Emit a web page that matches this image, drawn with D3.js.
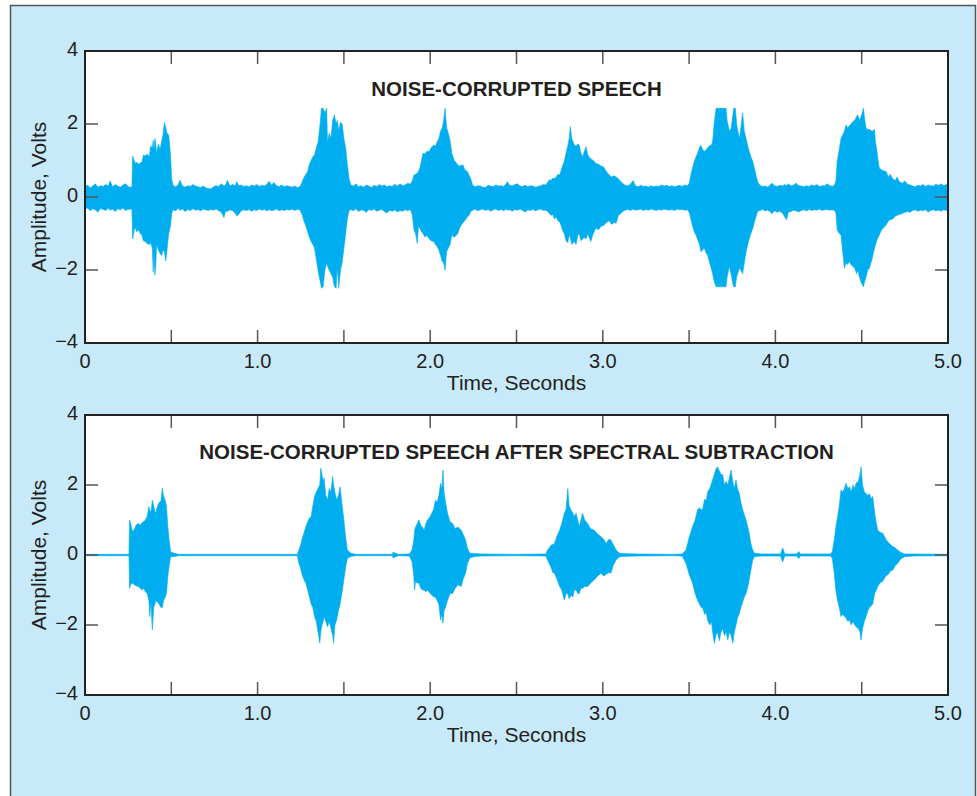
<!DOCTYPE html>
<html><head><meta charset="utf-8">
<script src="https://cdn.jsdelivr.net/npm/d3@7"></script>
<style>body{margin:0;background:#fff}svg{display:block}</style>
</head><body>
<svg id="c" width="977" height="796"></svg>
<script>
// ---- Data (envelopes) ----
const xTicks = [0,0.5,1,1.5,2,2.5,3,3.5,4,4.5,5];
const xTickLabels = ["0","","1.0","","2.0","","3.0","","4.0","","5.0"];
const yTicks = [-4,-2,0,2,4];
const yTickLabels = ["\u22124","\u22122","0","2","4"];
const titles = ["NOISE-CORRUPTED SPEECH","NOISE-CORRUPTED SPEECH AFTER SPECTRAL SUBTRACTION"];
const xAxisTitle = "Time, Seconds";
const yAxisTitle = "Amplitude, Volts";

// Panel 1 waveform envelope: [time s, upper V, lower V]
const noisySpeech = [
[0,.28,-.33],[.015,.33,-.30],[.03,.25,-.38],[.045,.30,-.32],[.06,.36,-.35],[.075,.27,-.42],[.09,.31,-.31],[.105,.29,-.34],[.12,.34,-.37],[.135,.30,-.30],[.145,.44,-.36],[.16,.28,-.33],[.175,.34,-.40],[.19,.30,-.32],[.205,.27,-.35],[.22,.33,-.30],[.235,.36,-.37],[.25,.29,-.34],[.265,.26,-.33],
[.272,.30,-.35],[.276,1.12,-1.15],[.285,1.0,-.9],[.292,.92,-.85],[.30,.95,-.95],[.31,.9,-.9],[.32,.93,-1.0],[.33,.95,-1.05],[.338,1.15,-1.2],[.35,1.12,-1.22],[.36,1.18,-1.28],[.372,1.1,-1.3],[.38,1.4,-1.25],[.39,1.35,-1.4],[.395,1.55,-2.05],[.40,1.3,-1.6],[.405,1.6,-2.14],[.41,1.45,-1.9],[.415,1.2,-1.3],[.425,1.45,-1.45],[.435,1.3,-1.55],[.445,1.55,-1.6],[.452,1.7,-1.45],[.46,2.05,-1.5],[.468,1.9,-1.75],[.475,1.75,-1.45],[.485,1.7,-1.0],[.495,1.2,-.8],[.502,.5,-.45],
[.51,.32,-.35],[.525,.28,-.38],[.54,.33,-.31],[.55,.46,-.36],[.565,.30,-.33],[.58,.27,-.40],[.595,.31,-.34],[.61,.29,-.37],[.625,.34,-.32],[.64,.30,-.36],[.655,.28,-.34],[.67,.26,-.38],[.685,.30,-.33],[.70,.25,-.35],[.715,.23,-.37],[.73,.22,-.34],[.745,.28,-.36],[.76,.31,-.33],[.775,.29,-.38],[.79,.36,-.41],[.805,.30,-.56],[.815,.33,-.38],[.825,.46,-.40],[.84,.30,-.35],[.855,.34,-.38],[.87,.31,-.44],[.88,.42,-.52],[.89,.30,-.48],[.905,.33,-.38],[.92,.29,-.35],[.935,.31,-.37],[.95,.28,-.34],[.965,.33,-.39],[.98,.30,-.35],[.995,.34,-.37],[1.01,.29,-.33],[1.025,.32,-.36],[1.04,.30,-.34],[1.055,.35,-.38],[1.066,.43,-.35],[1.08,.33,-.37],[1.095,.40,-.36],[1.11,.30,-.33],[1.125,.29,-.38],[1.14,.33,-.35],[1.155,.28,-.37],[1.17,.31,-.34],[1.185,.29,-.36],[1.20,.27,-.33],[1.215,.30,-.37],[1.23,.26,-.34],[1.245,.28,-.35],
[1.259,.42,-.5],[1.27,.55,-.68],[1.28,.62,-.8],[1.29,.7,-.95],[1.30,.9,-1.1],[1.31,1.0,-1.22],[1.32,1.1,-1.3],[1.33,1.15,-1.4],[1.34,1.35,-1.7],[1.35,1.5,-2.0],[1.355,1.7,-2.14],[1.362,2.0,-2.3],[1.37,2.43,-2.5],[1.38,2.43,-2.45],[1.39,2.3,-2.0],[1.40,2.43,-1.8],[1.405,1.5,-1.9],[1.415,1.75,-2.0],[1.425,1.6,-2.1],[1.435,2.1,-2.2],[1.445,2.25,-2.45],[1.455,2.0,-2.5],[1.462,2.1,-1.9],[1.47,1.8,-2.5],[1.48,2.05,-2.0],[1.49,2.0,-1.8],[1.50,1.6,-1.4],[1.51,1.35,-1.0],[1.52,.9,-.6],[1.53,.5,-.38],
[1.54,.33,-.34],[1.555,.30,-.38],[1.57,.36,-.32],[1.585,.28,-.40],[1.60,.31,-.35],[1.615,.27,-.37],[1.63,.33,-.42],[1.645,.30,-.34],[1.66,.26,-.37],[1.675,.32,-.33],[1.69,.29,-.39],[1.705,.34,-.36],[1.72,.30,-.34],[1.735,.33,-.40],[1.75,.28,-.44],[1.765,.31,-.36],[1.78,.29,-.39],[1.795,.35,-.35],[1.81,.30,-.41],[1.825,.36,-.37],[1.84,.31,-.39],[1.855,.33,-.35],[1.87,.38,-.38],[1.885,.35,-.34],[1.897,.45,-.5],
[1.906,.6,-.9],[1.915,.62,-1.0],[1.925,.65,-1.27],[1.932,.7,-.8],[1.94,.8,-.85],[1.95,1.0,-.95],[1.958,1.2,-1.0],[1.97,1.18,-1.1],[1.98,1.25,-1.05],[1.995,1.25,-1.15],[2.005,1.35,-1.2],[2.02,1.42,-1.22],[2.03,1.4,-1.3],[2.04,1.5,-1.35],[2.05,1.6,-1.45],[2.06,1.8,-1.6],[2.07,1.9,-1.77],[2.078,2.1,-1.8],[2.086,2.43,-2.0],[2.095,1.9,-1.5],[2.105,1.75,-1.4],[2.115,1.55,-1.3],[2.125,1.2,-1.05],[2.14,1.0,-1.1],[2.16,.88,-1.0],[2.17,.85,-.85],[2.19,.88,-.7],[2.2,.75,-.65],[2.215,.7,-.55],[2.225,.6,-.5],[2.235,.5,-.4],
[2.245,.33,-.36],[2.26,.28,-.33],[2.275,.31,-.38],[2.29,.30,-.35],[2.305,.27,-.33],[2.32,.26,-.37],[2.335,.32,-.34],[2.35,.30,-.39],[2.365,.28,-.35],[2.38,.33,-.33],[2.395,.30,-.37],[2.41,.31,-.34],[2.425,.29,-.38],[2.44,.36,-.33],[2.447,.42,-.36],[2.46,.32,-.35],[2.475,.30,-.39],[2.49,.34,-.34],[2.505,.36,-.36],[2.52,.30,-.33],[2.535,.29,-.37],[2.55,.32,-.41],[2.565,.28,-.35],[2.58,.31,-.37],[2.595,.30,-.34],[2.61,.27,-.38],[2.625,.29,-.35],[2.64,.31,-.33],[2.655,.34,-.37],[2.67,.33,-.36],[2.68,.40,-.40],
[2.69,.47,-.45],[2.70,.45,-.5],[2.71,.52,-.48],[2.72,.5,-.6],[2.73,.55,-.55],[2.74,.62,-.65],[2.75,.6,-.68],[2.76,.75,-.8],[2.77,.9,-.95],[2.777,.97,-1.0],[2.787,1.2,-1.2],[2.797,1.4,-1.25],[2.805,1.6,-1.05],[2.812,1.93,-1.1],[2.82,1.6,-1.3],[2.835,1.42,-1.22],[2.845,1.4,-1.3],[2.855,1.45,-1.05],[2.864,1.42,-1.0],[2.873,1.2,-1.2],[2.883,1.1,-1.15],[2.893,1.25,-1.1],[2.903,1.38,-1.15],[2.913,1.15,-1.0],[2.93,1.05,-1.22],[2.945,1.0,-1.0],[2.96,.92,-.85],[2.975,.9,-.9],[2.99,.85,-.8],[3.005,.82,-.78],[3.02,.7,-.7],[3.038,.6,-.65],[3.05,.55,-.75],[3.065,.58,-.7],[3.077,.55,-.72],[3.09,.5,-.5],[3.105,.42,-.45],[3.115,.37,-.4],
[3.13,.32,-.36],[3.145,.30,-.34],[3.16,.35,-.37],[3.175,.45,-.33],[3.19,.30,-.36],[3.205,.28,-.35],[3.22,.32,-.33],[3.235,.29,-.37],[3.25,.30,-.34],[3.265,.27,-.36],[3.28,.31,-.33],[3.295,.28,-.35],[3.31,.30,-.37],[3.325,.29,-.34],[3.34,.33,-.36],[3.355,.30,-.33],[3.37,.32,-.35],[3.385,.29,-.36],[3.40,.31,-.34],[3.415,.28,-.37],[3.43,.30,-.33],[3.445,.32,-.35],[3.46,.29,-.34],[3.475,.33,-.36],[3.49,.31,-.35],
[3.501,.38,-.42],[3.51,.6,-.6],[3.52,.8,-.8],[3.53,.97,-.95],[3.54,1.1,-1.05],[3.549,1.2,-1.15],[3.56,1.35,-1.3],[3.569,1.42,-1.5],[3.578,1.3,-1.45],[3.588,1.25,-1.4],[3.6,1.3,-1.55],[3.608,1.35,-1.6],[3.617,1.4,-1.77],[3.628,1.42,-1.95],[3.636,1.5,-2.1],[3.645,2.0,-2.3],[3.656,2.43,-2.46],[3.685,2.43,-2.46],[3.714,2.43,-2.46],[3.72,2.1,-2.2],[3.733,1.8,-1.9],[3.743,1.88,-2.1],[3.75,2.1,-2.3],[3.758,2.43,-2.46],[3.768,2.43,-2.46],[3.775,2.0,-2.2],[3.791,1.6,-1.95],[3.8,1.9,-2.0],[3.81,2.3,-2.1],[3.82,1.8,-1.8],[3.83,1.6,-1.5],[3.845,1.3,-1.2],[3.858,1.1,-1.0],[3.869,.97,-.86],[3.883,.7,-.6],[3.897,.42,-.4],
[3.91,.32,-.37],[3.925,.29,-.34],[3.94,.30,-.38],[3.955,.27,-.36],[3.97,.33,-.40],[3.98,.38,-.46],[3.995,.31,-.38],[4.01,.29,-.42],[4.025,.32,-.39],[4.04,.30,-.44],[4.055,.34,-.55],[4.065,.31,-.62],[4.075,.36,-.42],[4.09,.30,-.40],[4.105,.33,-.36],[4.12,.38,-.38],[4.135,.31,-.41],[4.15,.30,-.37],[4.165,.28,-.35],[4.18,.31,-.38],[4.195,.29,-.34],[4.21,.33,-.37],[4.225,.30,-.35],[4.24,.34,-.36],[4.255,.29,-.33],[4.27,.31,-.37],[4.285,.30,-.35],[4.30,.36,-.34],[4.315,.31,-.36],[4.33,.29,-.35],[4.343,.33,-.37],
[4.351,.45,-.45],[4.358,.97,-.9],[4.37,1.3,-1.0],[4.38,1.6,-1.04],[4.39,1.7,-1.5],[4.4,1.8,-1.95],[4.409,1.97,-1.8],[4.418,1.9,-1.85],[4.428,1.95,-1.77],[4.438,2.0,-1.85],[4.448,2.06,-1.9],[4.46,2.1,-1.95],[4.47,2.2,-2.1],[4.477,2.25,-2.0],[4.487,2.1,-2.2],[4.496,2.2,-2.32],[4.503,2.3,-2.4],[4.51,2.43,-2.46],[4.518,2.1,-2.3],[4.525,1.9,-2.2],[4.535,1.85,-2.0],[4.545,1.85,-1.95],[4.56,1.8,-1.7],[4.574,1.85,-1.4],[4.58,1.5,-1.3],[4.587,1.3,-1.2],[4.595,1.0,-1.1],[4.602,.79,-1.04],[4.615,.75,-.9],[4.625,.72,-.85],[4.641,.7,-.77],[4.655,.55,-.65],[4.665,.62,-.62],[4.68,.5,-.6],[4.695,.45,-.52],[4.705,.55,-.5],[4.718,.42,-.48],[4.735,.38,-.45],[4.75,.44,-.42],[4.765,.35,-.4],[4.78,.33,-.42],
[4.795,.30,-.37],[4.81,.28,-.35],[4.825,.32,-.39],[4.84,.30,-.36],[4.855,.34,-.38],[4.87,.29,-.35],[4.885,.33,-.41],[4.90,.31,-.37],[4.915,.30,-.35],[4.93,.35,-.38],[4.945,.32,-.36],[4.96,.36,-.39],[4.975,.31,-.35],[4.99,.34,-.37],[5.0,.33,-.36]
];

// Panel 2 waveform envelope: [time s, upper V, lower V]
const cleanedSpeech = [
[0,.02,-.02],[.25,.02,-.02],[.255,.03,-.03],[.258,1.0,-.95],[.265,.9,-.85],[.275,.67,-.8],[.285,.72,-.85],[.295,.85,-.88],[.31,.9,-.9],[.32,.85,-.95],[.33,.92,-1.0],[.34,.95,-.95],[.35,1.0,-1.05],[.36,1.1,-1.1],[.37,1.38,-1.3],[.375,1.3,-1.76],[.382,1.2,-1.35],[.39,1.57,-2.14],[.398,1.4,-1.5],[.405,1.25,-1.4],[.41,1.2,-1.3],[.42,1.4,-1.35],[.43,1.5,-1.4],[.44,1.55,-1.5],[.448,1.9,-1.5],[.455,1.7,-1.3],[.465,1.55,-1.2],[.472,1.4,-1.1],[.48,.81,-.6],[.488,.4,-.3],[.496,.1,-.05],[.51,.06,-.05],[.52,.05,-.04],[.54,.02,-.02],
[1.23,.02,-.02],[1.24,.15,-.25],[1.25,.3,-.4],[1.26,.5,-.6],[1.27,.65,-.72],[1.28,.81,-.81],[1.29,.95,-1.0],[1.30,1.05,-1.2],[1.31,1.1,-1.4],[1.32,1.4,-1.5],[1.33,1.67,-1.76],[1.34,1.8,-1.9],[1.35,1.9,-2.2],[1.36,2.0,-2.52],[1.366,2.48,-2.2],[1.373,2.3,-2.0],[1.38,2.1,-1.9],[1.385,2.2,-1.76],[1.395,1.7,-1.9],[1.405,1.57,-2.05],[1.415,1.9,-1.9],[1.425,1.8,-2.1],[1.435,2.24,-2.3],[1.44,2.0,-2.52],[1.448,1.8,-2.0],[1.458,1.57,-1.86],[1.468,1.7,-1.6],[1.478,1.95,-1.4],[1.488,1.5,-1.1],[1.5,1.0,-.7],[1.51,.5,-.35],[1.52,.14,-.1],[1.54,.05,-.04],[1.57,.02,-.02],
[1.78,.02,-.02],[1.785,.08,-.08],[1.8,.05,-.05],[1.815,.02,-.02],
[1.88,.03,-.03],[1.895,.15,-.2],[1.905,.43,-.6],[1.91,.7,-1.0],[1.915,.8,-.75],[1.925,.9,-.8],[1.935,1.0,-.8],[1.945,.85,-.95],[1.955,.8,-1.0],[1.965,.71,-1.0],[1.975,.9,-1.05],[1.985,1.0,-1.0],[2.0,1.1,-1.1],[2.01,1.2,-1.15],[2.02,1.3,-1.2],[2.03,1.57,-1.2],[2.04,1.5,-1.3],[2.05,1.7,-1.4],[2.06,2.05,-1.86],[2.068,1.9,-1.7],[2.074,2.43,-1.95],[2.08,1.8,-1.6],[2.09,1.48,-1.48],[2.1,1.2,-1.3],[2.115,.95,-1.1],[2.13,.9,-1.1],[2.145,.75,-.95],[2.16,.8,-.85],[2.18,.71,-.9],[2.19,.6,-.7],[2.205,.43,-.52],[2.215,.2,-.25],[2.23,.05,-.08],[2.26,.04,-.04],[2.3,.03,-.03],[2.5,.02,-.02],
[2.67,.03,-.03],[2.68,.14,-.14],[2.69,.2,-.25],[2.7,.28,-.35],[2.71,.3,-.5],[2.72,.33,-.52],[2.735,.55,-.7],[2.75,.71,-.9],[2.762,.9,-1.0],[2.777,1.19,-1.29],[2.787,1.3,-1.1],[2.797,1.9,-1.1],[2.805,1.4,-1.25],[2.815,1.3,-1.15],[2.826,1.2,-1.2],[2.835,1.1,-1.0],[2.845,1.19,-1.0],[2.855,1.0,-1.1],[2.864,.81,-1.1],[2.873,1.0,-.95],[2.883,1.19,-.95],[2.895,1.0,-.9],[2.912,.9,-.9],[2.93,.75,-.8],[2.951,.71,-.71],[2.97,.6,-.6],[2.99,.52,-.52],[3.005,.45,-.6],[3.02,.33,-.55],[3.035,.45,-.5],[3.047,.43,-.52],[3.06,.3,-.3],[3.077,.14,-.14],[3.095,.06,-.06],[3.115,.04,-.04],[3.2,.03,-.03],[3.4,.02,-.02],[3.46,.03,-.03],
[3.482,.14,-.24],[3.5,.5,-.55],[3.52,.81,-.81],[3.535,1.0,-1.1],[3.549,1.29,-1.29],[3.56,1.35,-1.4],[3.57,1.3,-1.5],[3.578,1.3,-1.5],[3.59,1.6,-1.7],[3.6,1.55,-1.65],[3.607,1.8,-1.86],[3.62,1.9,-2.0],[3.63,2.05,-1.9],[3.636,2.14,-2.2],[3.646,2.3,-2.52],[3.655,2.45,-2.3],[3.665,2.52,-2.2],[3.675,2.4,-2.45],[3.685,2.3,-2.2],[3.694,2.3,-2.1],[3.705,2.0,-2.3],[3.715,2.1,-2.2],[3.724,2.0,-2.43],[3.733,2.2,-2.2],[3.743,2.43,-2.3],[3.753,2.1,-2.52],[3.762,1.9,-2.2],[3.772,2.14,-2.0],[3.78,1.9,-1.8],[3.791,1.76,-1.67],[3.8,1.5,-1.5],[3.81,1.3,-1.35],[3.82,1.15,-1.2],[3.83,1.0,-1.1],[3.845,.7,-.8],[3.858,.33,-.43],[3.868,.15,-.15],[3.878,.05,-.05],[3.92,.03,-.03],
[4.03,.03,-.03],[4.042,.2,-.2],[4.055,.03,-.03],[4.125,.03,-.03],[4.135,.1,-.1],[4.145,.03,-.03],
[4.32,.03,-.03],[4.33,.1,-.1],[4.341,.43,-.52],[4.35,.8,-1.0],[4.36,1.1,-1.29],[4.37,1.4,-1.5],[4.38,1.86,-1.76],[4.39,1.8,-1.7],[4.4,1.9,-1.75],[4.409,2.05,-1.8],[4.42,1.9,-1.9],[4.43,1.95,-1.85],[4.438,1.8,-2.0],[4.45,2.0,-1.9],[4.46,1.9,-2.0],[4.467,2.05,-2.05],[4.48,2.1,-2.1],[4.49,2.3,-2.2],[4.496,2.52,-2.43],[4.505,2.0,-2.1],[4.515,1.8,-1.9],[4.525,1.76,-1.76],[4.535,1.7,-1.6],[4.545,1.75,-1.5],[4.555,1.6,-1.45],[4.564,1.67,-1.4],[4.575,1.2,-1.1],[4.585,.9,-1.0],[4.593,.71,-.9],[4.605,.65,-.8],[4.622,.62,-.75],[4.64,.45,-.6],[4.655,.35,-.55],[4.668,.3,-.45],[4.68,.24,-.43],[4.695,.2,-.3],[4.708,.14,-.24],[4.725,.08,-.12],[4.747,.03,-.05],[4.8,.03,-.03],[5.0,.02,-.02]
];

// ---- Drawing ----
const svg = d3.select("#c");
const font = "'Liberation Sans', Arial, Helvetica, sans-serif";
const textCol = "#231f20";
svg.append("rect").attr("x",10.5).attr("y",5.5).attr("width",965).attr("height",800)
  .attr("fill","#c7e9f9").attr("stroke","#555").attr("stroke-width",1.5);

const panels = [
  {top:51, bottom:343, data:noisySpeech, title:titles[0], titleY:95.5},
  {top:415, bottom:695, data:cleanedSpeech, title:titles[1], titleY:458.5}
];
const left = 85, right = 948;
const x = d3.scaleLinear().domain([0,5]).range([left,right]);

panels.forEach(p => {
  const y = d3.scaleLinear().domain([-4,4]).range([p.bottom,p.top]);
  const g = svg.append("g");
  g.append("rect").attr("x",left).attr("y",p.top).attr("width",right-left).attr("height",p.bottom-p.top)
    .attr("fill","#fff");
  const area = d3.area().x(d=>x(d[0])).y0(d=>y(d[2])).y1(d=>y(d[1]));
  g.append("path").datum(p.data).attr("d",area).attr("fill","#00aeef").attr("stroke","#00aeef").attr("stroke-width",0.6);

  // ticks (inward)
  const tl = 13, tc = "#555";
  xTicks.forEach(v => {
    if (v===0 || v===5) return;
    g.append("line").attr("x1",x(v)).attr("x2",x(v)).attr("y1",p.bottom).attr("y2",p.bottom-tl).attr("stroke",tc).attr("stroke-width",1.5);
    g.append("line").attr("x1",x(v)).attr("x2",x(v)).attr("y1",p.top).attr("y2",p.top+tl).attr("stroke",tc).attr("stroke-width",1.5);
  });
  yTicks.forEach(v => {
    if (v===4 || v===-4) return;
    g.append("line").attr("x1",left).attr("x2",left+tl).attr("y1",y(v)).attr("y2",y(v)).attr("stroke",tc).attr("stroke-width",1.5);
    g.append("line").attr("x1",right).attr("x2",right-tl).attr("y1",y(v)).attr("y2",y(v)).attr("stroke",tc).attr("stroke-width",1.5);
  });
  g.append("rect").attr("x",left).attr("y",p.top).attr("width",right-left).attr("height",p.bottom-p.top)
    .attr("fill","none").attr("stroke","#222").attr("stroke-width",2);

  // tick labels
  xTicks.forEach((v,i) => {
    if (!xTickLabels[i]) return;
    g.append("text").attr("x",x(v)).attr("y",p.bottom+24.5).attr("text-anchor","middle")
      .attr("font-family",font).attr("font-size",20).attr("fill",textCol).text(xTickLabels[i]);
  });
  yTicks.forEach((v,i) => {
    g.append("text").attr("x",left-7).attr("y",y(v)+5).attr("text-anchor","end")
      .attr("font-family",font).attr("font-size",20).attr("fill",textCol).text(yTickLabels[i]);
  });
  g.append("text").attr("x",(left+right)/2).attr("y",p.bottom+47).attr("text-anchor","middle")
    .attr("font-family",font).attr("font-size",21).attr("fill",textCol).text(xAxisTitle);
  const cy = (p.top+p.bottom)/2;
  g.append("text").attr("transform",`translate(45.5,${cy}) rotate(-90)`).attr("text-anchor","middle")
    .attr("font-family",font).attr("font-size",21).attr("fill",textCol).text(yAxisTitle);
  g.append("text").attr("x",(left+right)/2).attr("y",p.titleY).attr("text-anchor","middle")
    .attr("font-family",font).attr("font-size",20.5).attr("font-weight","bold").attr("fill",textCol).text(p.title);
});
</script>
</body></html>
